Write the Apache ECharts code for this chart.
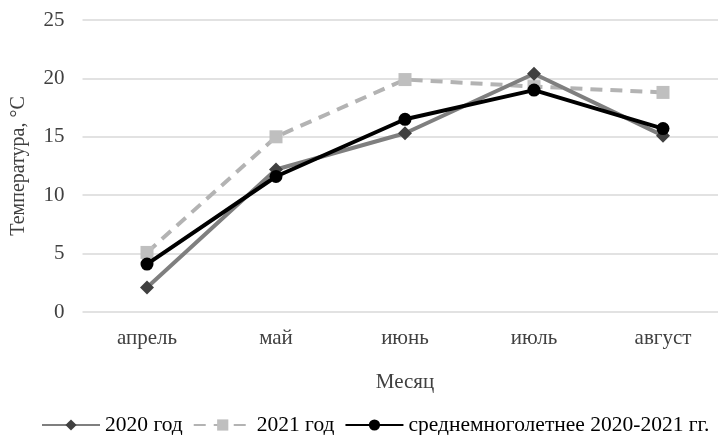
<!DOCTYPE html>
<html><head><meta charset="utf-8">
<script src="https://cdn.jsdelivr.net/npm/echarts@6/dist/echarts.min.js"></script>
<style>html,body{margin:0;padding:0;background:#fff;overflow:hidden}#c{width:732px;height:435px}</style>
</head><body><div id="c"></div>
<script>
const categories = ['апрель','май','июнь','июль','август'];
const yTicks = [0,5,10,15,20,25];
const s2020 = [2.1, 12.2, 15.3, 20.4, 15.1];
const s2021 = [5.1, 15.0, 19.9, 19.3, 18.8];
const sAvg = [4.1, 11.6, 16.5, 19.0, 15.7];
const names = ['2020 год','2021 год','среднемноголетнее 2020-2021 гг.'];

const font = '"Liberation Serif","Times New Roman",serif';
const chart = echarts.init(document.getElementById('c'));
chart.setOption({
  animation:false,
  grid:{left:82.5, width:645, top:20, height:292},
  xAxis:{type:'category', data:categories, boundaryGap:true,
    name:'Месяц', nameLocation:'middle', nameGap:60,
    nameTextStyle:{fontFamily:font,fontSize:21,color:'#404040'},
    axisLine:{show:false}, axisTick:{show:false},
    axisLabel:{fontFamily:font,fontSize:21,color:'#404040',margin:16}},
  yAxis:{type:'value', min:yTicks[0], max:yTicks[yTicks.length-1], interval:5,
    name:'Температура, °С', nameLocation:'middle', nameGap:54, nameRotate:90,
    nameTextStyle:{fontFamily:font,fontSize:20,color:'#404040'},
    axisLabel:{fontFamily:font,fontSize:21,color:'#404040',margin:18},
    splitLine:{lineStyle:{color:'#d9d9d9',width:1.5}}},
  legend:{top:409, left:36, itemWidth:58, itemHeight:14, itemGap:10,
    textStyle:{fontFamily:font,fontSize:21.5,color:'#000'}},
  series:[
    {name:names[0], type:'line', data:s2020, symbol:'diamond', symbolSize:14,
     lineStyle:{color:'#7f7f7f',width:4}, itemStyle:{color:'#404040'}, z:2},
    {name:names[1], type:'line', data:s2021, symbol:'rect', symbolSize:13,
     lineStyle:{color:'#b3b3b3',width:4,type:[12,8]}, itemStyle:{color:'#bfbfbf'}, z:1},
    {name:names[2], type:'line', data:sAvg, symbol:'circle', symbolSize:13,
     lineStyle:{color:'#000',width:4}, itemStyle:{color:'#000'}, z:3}
  ]
});
</script></body></html>
